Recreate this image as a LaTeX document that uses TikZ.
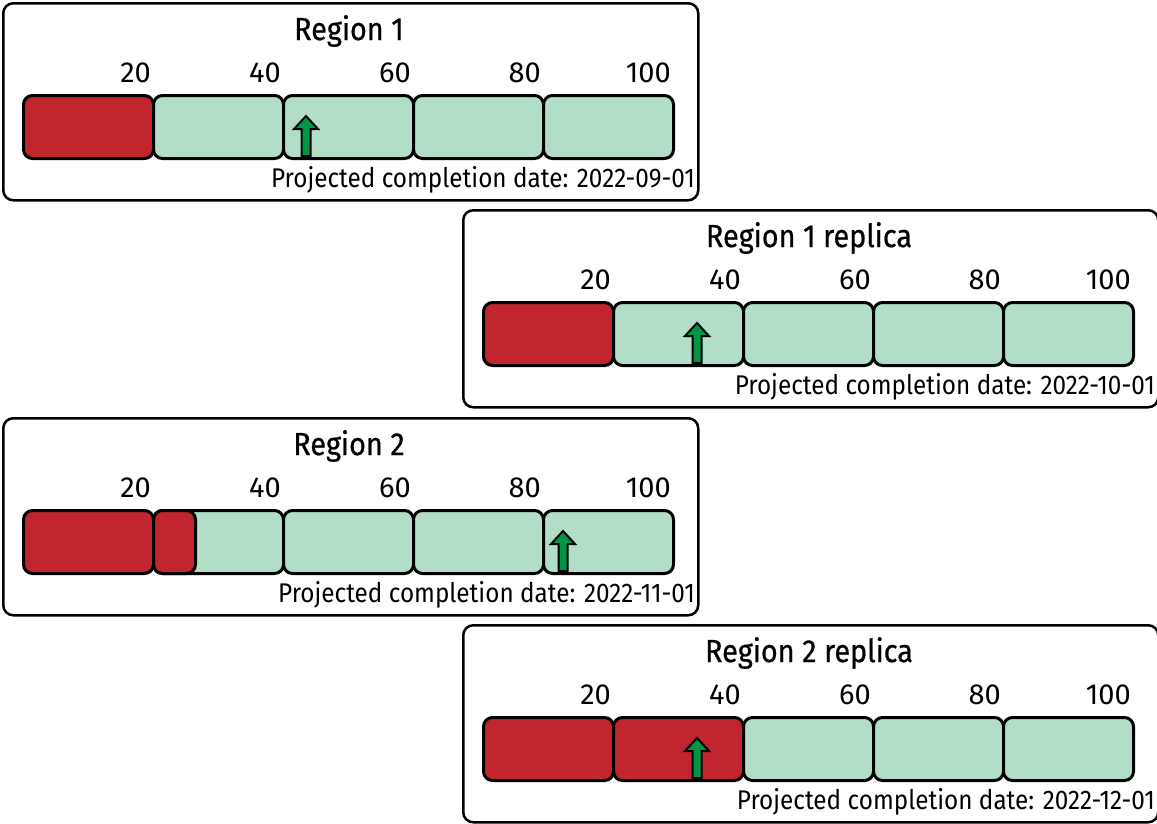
\documentclass[tikz,border=0pt]{standalone}
\usepackage{fontspec}
\setmainfont{Fira Sans}[FakeStretch=0.9]
\newfontfamily\headfont{Fira Sans}[FakeStretch=0.9, FakeBold=0.6]
\newfontfamily\tickfont{Fira Sans}
\definecolor{barred}{RGB}{193,38,46}
\definecolor{barmint}{RGB}{178,222,200}
\definecolor{arrowgreen}{RGB}{0,150,70}

\tikzset{
  panelbox/.style={draw=black, line width=2.5pt, rounded corners=10pt, fill=white,
    minimum width=695pt, minimum height=197pt, anchor=north west, inner sep=0pt},
  seg/.style={draw=black, line width=3pt, rounded corners=9pt,
    minimum width=130pt, minimum height=63pt, inner sep=0pt, anchor=north west},
  okseg/.style={seg, fill=barmint},
  badseg/.style={seg, fill=barred},
  titletext/.style={inner sep=0pt, font=\headfont\fontsize{32}{34}\selectfont},
  ticktext/.style={inner sep=0pt, anchor=east, font=\tickfont\fontsize{29}{31}\selectfont},
  datetext/.style={inner sep=0pt, anchor=east, font=\fontsize{27}{29}\selectfont},
  progress/.style={draw=black, fill=arrowgreen, line width=2pt, line join=miter},
}

% #1 id, #2 left, #3 top, #4 title, #5 date, #6 number of red segments
\newcommand\regionpanel[6]{%
  \node[panelbox] (#1) at (#2,#3) {};
  \node[titletext] (#1-title) at (#2+347,#3+29) {#4};
  \foreach \i in {1,...,5}{%
    \pgfmathsetmacro\sx{#2+20+130*(\i-1)}%
    \pgfmathtruncatemacro\lab{20*\i}%
    \ifnum\i>#6\relax
      \node[okseg] (#1-s\i) at (\sx,#3+92) {};
    \else
      \node[badseg] (#1-s\i) at (\sx,#3+92) {};
    \fi
    \node[ticktext] (#1-t\i) at (\sx+129,#3+71) {\lab};
  }
  \node[datetext] (#1-date) at (#2+693,#3+178) {Projected completion date: #5};
}

% upward progress arrow standing on the bottom edge of a bar
\newcommand\progressarrow[2]{%
  \draw[progress] (#1-4.5,#2) -- (#1-4.5,#2-27) -- (#1-12,#2-27) -- (#1,#2-40)
    -- (#1+12,#2-27) -- (#1+4.5,#2-27) -- (#1+4.5,#2) -- cycle;
}

\begin{document}
\begin{tikzpicture}[x=1pt,y=-1pt]
  \useasboundingbox (0,0) rectangle (1157,823);

  \regionpanel{r1}{2}{2}{Region 1}{2022-09-01}{1}
  \progressarrow{306}{156}

  \regionpanel{r1rep}{462}{209}{Region 1 replica}{2022-10-01}{1}
  \progressarrow{697}{363}

  \regionpanel{r2}{2}{417}{Region 2}{2022-11-01}{1}
  \node[badseg, minimum width=42pt] (r2-part) at (152,509) {};
  \progressarrow{563}{571}

  \regionpanel{r2rep}{462}{624}{Region 2 replica}{2022-12-01}{2}
  \progressarrow{697}{778}
\end{tikzpicture}
\end{document}
